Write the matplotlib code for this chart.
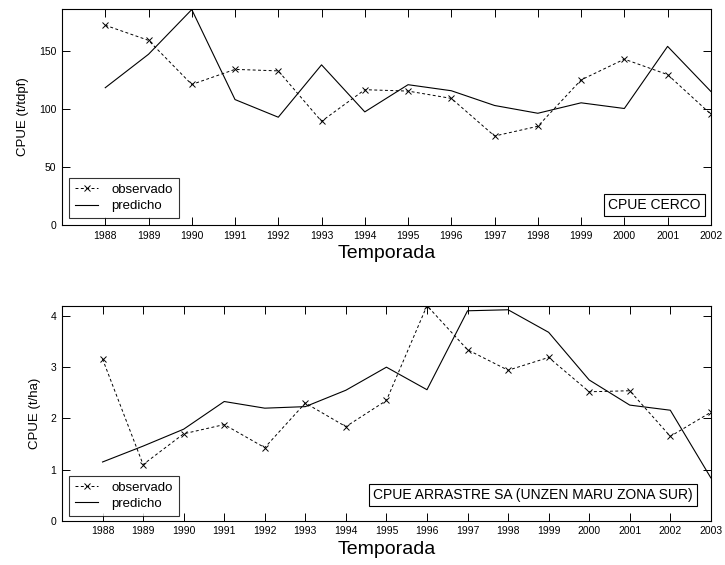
import matplotlib
matplotlib.use("Agg")
import matplotlib.pyplot as plt

plt.rcParams["font.family"] = ["Liberation Sans", "DejaVu Sans"]

# CPUE cerco (t/tdpf)
years_cerco = list(range(1988, 2003))
obs_cerco = [172, 159, 121, 134, 132.7, 89.3, 116.5, 115.3, 109, 76.6,
             85, 124.9, 142.8, 129.5, 95.4]
pred_cerco = [118.2, 147, 185.5, 108, 92.8, 137.9, 97.4, 120.8, 115.6,
              102.9, 96.2, 105.2, 100.3, 153.8, 115]

# CPUE arrastre SA (t/ha)
years_arr = list(range(1988, 2004))
obs_arr = [3.16, 1.10, 1.70, 1.88, 1.43, 2.30, 1.84, 2.35, 4.20, 3.34,
           2.94, 3.19, 2.52, 2.54, 1.65, 2.12]
pred_arr = [1.15, 1.46, 1.79, 2.33, 2.20, 2.23, 2.55, 3.00, 2.56, 4.10,
            4.12, 3.68, 2.75, 2.26, 2.16, 0.84]

fig = plt.figure(figsize=(7.25, 5.65), dpi=100)
ax1 = fig.add_axes([0.0855, 0.6018, 0.895, 0.3823])
ax2 = fig.add_axes([0.0855, 0.0780, 0.895, 0.3810])


def draw_panel(ax, years, obs, pred, ylim, yticks, ylabel, ylab_x,
               leg_y, box_text, box_x, box_y, box_fs):
    ax.plot(years, obs, color="black", lw=0.7, ls=(0, (3, 2.5)),
            marker="x", ms=4, mew=0.7, label="observado")
    ax.plot(years, pred, color="black", lw=0.8, label="predicho")
    ax.set_xlim(years[0] - 1, years[-1])
    ax.set_ylim(*ylim)
    ax.set_xticks(years)
    ax.set_yticks(yticks)
    ax.tick_params(direction="in", top=True, right=True, length=6,
                   width=0.7, labelsize=7.5, pad=4)
    for sp in ax.spines.values():
        sp.set_linewidth(0.8)
    ax.set_ylabel(ylabel, fontsize=9.5)
    ax.yaxis.set_label_coords(ylab_x, 0.5)
    ax.set_xlabel("Temporada", fontsize=14, labelpad=3)
    leg = ax.legend(loc="lower left", bbox_to_anchor=(0.011, leg_y),
                    fancybox=False, edgecolor="black", fontsize=9.5,
                    handlelength=1.75, handletextpad=1.0, borderpad=0.45,
                    labelspacing=0.3, borderaxespad=0)
    leg.get_frame().set_linewidth(0.8)
    ax.text(box_x, box_y, box_text, transform=ax.transAxes, ha="right",
            va="bottom", fontsize=box_fs,
            bbox=dict(boxstyle="square,pad=0.3", fc="white", ec="black", lw=0.8))


draw_panel(ax1, years_cerco, obs_cerco, pred_cerco, (0, 186),
           [0, 50, 100, 150], "CPUE (t/tdpf)", -0.051,
           0.032, "CPUE CERCO", 0.984, 0.06, 10)
draw_panel(ax2, years_arr, obs_arr, pred_arr, (0, 4.2),
           [0, 1, 2, 3, 4], "CPUE (t/ha)", -0.032,
           0.023, "CPUE ARRASTRE SA (UNZEN MARU ZONA SUR)", 0.972, 0.088, 10)

fig.savefig("out.png", dpi=100)
